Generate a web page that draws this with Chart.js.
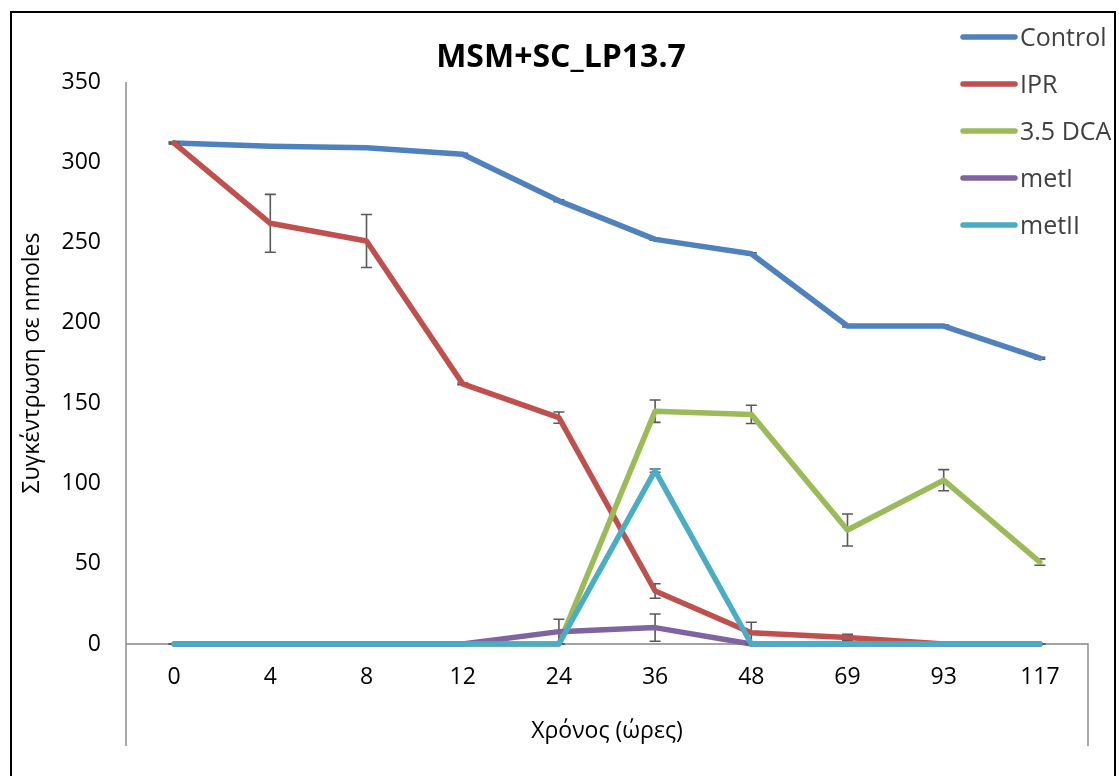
<!DOCTYPE html>
<html>
<head>
<meta charset="utf-8">
<script src="https://cdn.jsdelivr.net/npm/chart.js@4.4.1/dist/chart.umd.min.js"></script>
<style>
  html, body { margin: 0; padding: 0; background: #fff; overflow: hidden; }
  #wrap { width: 1119px; height: 776px; position: relative; }
</style>
</head>
<body>
<div id="wrap"><canvas id="chart" width="1119" height="776"></canvas></div>
<script>
const hours = ['0', '4', '8', '12', '24', '36', '48', '69', '93', '117'];

const control    = [312, 310, 309, 305, 276, 252, 243, 198, 198, 178];
const controlErr = [0.6, 0.6, 0.6, 0.6, 0.6, 0.6, 0.6, 0.6, 0.6, 0.6];
const ipr        = [312, 262, 251, 162, 141, 33, 7, 4, 0, 0];
const iprErr     = [0.5, 18, 16.5, 0.5, 3.5, 4.5, 6.5, 2, 0, 0];
const dca        = [0, 0, 0, 0, 0, 145, 143, 71, 102, 51];
const dcaErr     = [0, 0, 0, 0, 0, 7, 5.7, 10, 6.6, 2];
const metI       = [0, 0, 0, 0, 7.7, 10.2, 0, 0, 0, 0];
const metIErr    = [0, 0, 0, 0, 7.7, 8.5, 0, 0, 0, 0];
const metII      = [0, 0, 0, 0, 0, 108, 0, 0, 0, 0];
const metIIErr   = [0, 0, 0, 0, 0, 1, 0, 0, 0, 0];

const FONT = "'Open Sans', 'Noto Sans', sans-serif";

// error bars go under each series' own line, like Excel does
const errorBars = {
    id: 'errorBars',
    beforeDatasetDraw(chart, args) {
        const ds = chart.data.datasets[args.index];
        if (!ds.errors) return;
        const { ctx } = chart;
        const x = chart.scales.x, y = chart.scales.y;
        ctx.save();
        ctx.strokeStyle = '#595959';
        ctx.lineWidth = 1.6;
        ds.data.forEach((v, i) => {
            const e = ds.errors[i];
            const px = x.getPixelForValue(i);
            const top = y.getPixelForValue(v + e);
            const bot = y.getPixelForValue(Math.max(v - e, 0));
            ctx.beginPath();
            ctx.moveTo(px, top); ctx.lineTo(px, bot);
            ctx.moveTo(px - 5.5, top); ctx.lineTo(px + 5.5, top);
            if (v - e >= 0) { ctx.moveTo(px - 5.5, bot); ctx.lineTo(px + 5.5, bot); }
            ctx.stroke();
        });
        ctx.restore();
    }
};

const frame = {
    id: 'frame',
    beforeDatasetsDraw(chart) {
        const { ctx, chartArea: a } = chart;
        ctx.save();
        ctx.strokeStyle = '#868686';
        ctx.lineWidth = 1.4;
        ctx.beginPath();
        ctx.moveTo(a.left, a.top); ctx.lineTo(a.left, 746);
        ctx.moveTo(a.left, a.bottom); ctx.lineTo(a.right, a.bottom);
        ctx.lineTo(a.right, 746);
        ctx.stroke();
        ctx.restore();
    },
    afterDraw(chart) {
        const { ctx } = chart;
        ctx.save();
        // outer border
        ctx.strokeStyle = '#000';
        ctx.lineWidth = 2;
        ctx.strokeRect(11, 12, 1104, 800);
        // title
        ctx.fillStyle = '#000';
        ctx.font = 'bold 32px ' + FONT;
        ctx.textAlign = 'center';
        ctx.textBaseline = 'alphabetic';
        ctx.fillText('MSM+SC_LP13.7', 561, 67);
        // legend
        ctx.font = '25px ' + FONT;
        ctx.textAlign = 'left';
        ctx.lineCap = 'round';
        chart.data.datasets.forEach((ds, i) => {
            const cy = 37 + i * 47;
            ctx.strokeStyle = ds.borderColor;
            ctx.lineWidth = 5.5;
            ctx.beginPath();
            ctx.moveTo(963, cy); ctx.lineTo(1015, cy);
            ctx.stroke();
            ctx.fillStyle = '#404040';
            ctx.fillText(ds.label, 1020, cy + 9);
        });
        ctx.restore();
    }
};

function series(label, data, errors, color, order) {
    return {
        label, data, errors, order,
        borderColor: color,
        backgroundColor: color,
        borderWidth: 5.5,
        borderJoinStyle: 'round',
        borderCapStyle: 'round',
        pointRadius: 0,
        tension: 0,
        clip: false
    };
}

new Chart(document.getElementById('chart'), {
    type: 'line',
    data: {
        labels: hours,
        datasets: [
            series('Control', control, controlErr, '#4F81BD', 5),
            series('IPR', ipr, iprErr, '#C0504D', 4),
            series('3.5 DCA', dca, dcaErr, '#9BBB59', 3),
            series('metI', metI, metIErr, '#8064A2', 2),
            series('metII', metII, metIIErr, '#4BACC6', 1)
        ]
    },
    options: {
        responsive: false,
        animation: false,
        layout: { padding: { left: 10, right: 31, top: 82, bottom: 0 } },
        plugins: {
            legend: { display: false },
            title: { display: false },
            tooltip: { enabled: false }
        },
        scales: {
            x: {
                offset: true,
                grid: { display: false, drawTicks: false },
                border: { display: false },
                ticks: { color: '#000', font: { family: FONT, size: 23 }, padding: 20, maxRotation: 0 },
                title: {
                    display: true, text: 'Χρόνος (ώρες)', color: '#000',
                    font: { family: FONT, size: 23 }, padding: { top: 0, bottom: 31 }
                },
                afterFit(scale) { scale.height = 132; }
            },
            y: {
                min: 0, max: 350,
                grid: { display: false, drawTicks: false },
                border: { display: false },
                ticks: { stepSize: 50, color: '#000', font: { family: FONT, size: 23 }, padding: 25 },
                title: {
                    display: true, text: 'Συγκέντρωση σε nmoles', color: '#000',
                    font: { family: FONT, size: 23 }, padding: { top: 9, bottom: 0 }
                },
                afterFit(scale) { scale.width = 116; }
            }
        }
    },
    plugins: [errorBars, frame]
});
</script>
</body>
</html>
